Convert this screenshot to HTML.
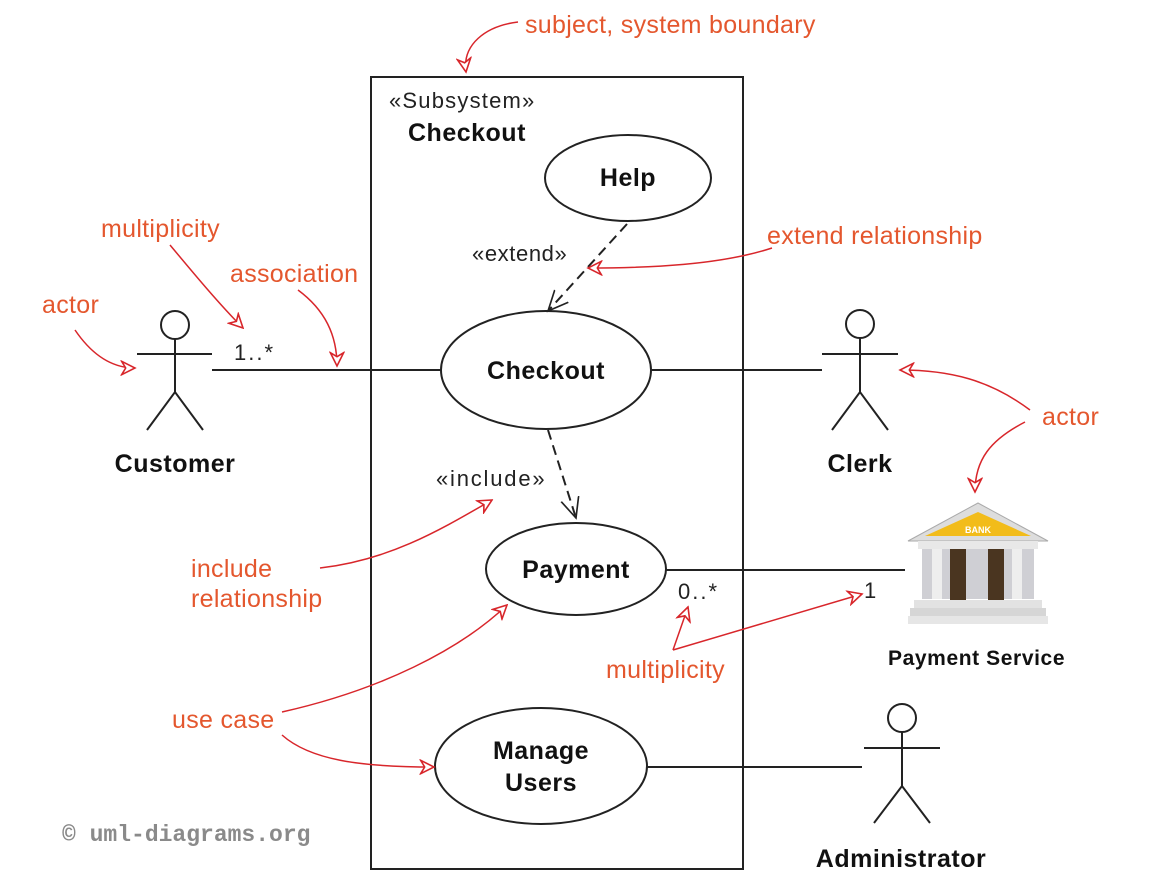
<!DOCTYPE html>
<html><head><meta charset="utf-8"><style>
body{margin:0;background:#fff;}
svg{display:block;font-family:"Liberation Sans",sans-serif;}
.o{fill:#e4572e;font-size:25px;letter-spacing:0.3px;}
.b{font-weight:bold;font-size:25px;fill:#111;letter-spacing:0.5px;}
</style></head><body>
<svg width="1165" height="886" viewBox="0 0 1165 886">
<defs>
<marker id="r" viewBox="0 0 12 12" refX="11" refY="6" markerWidth="16" markerHeight="16" markerUnits="userSpaceOnUse" orient="auto">
<path d="M1,1 L11,6 L1,11 L4,6 Z" fill="#fff" stroke="#d8262b" stroke-width="1.2"/></marker>
<marker id="k" viewBox="0 0 12 12" refX="11" refY="6" markerWidth="22" markerHeight="22" markerUnits="userSpaceOnUse" orient="auto">
<path d="M0,1 L11,6 L0,11" fill="none" stroke="#222" stroke-width="0.9"/></marker>
</defs>
<rect x="371" y="77" width="372" height="792" fill="none" stroke="#222" stroke-width="2"/>
<text x="389" y="108" font-size="22" fill="#222" letter-spacing="1.2">«Subsystem»</text>
<text x="408" y="141" class="b">Checkout</text>
<g fill="#fff" stroke="#222" stroke-width="2">
<ellipse cx="628" cy="178" rx="83" ry="43"/>
<ellipse cx="546" cy="370" rx="105" ry="59"/>
<ellipse cx="576" cy="569" rx="90" ry="46"/>
<ellipse cx="541" cy="766" rx="106" ry="58"/>
</g>
<text x="628" y="186" class="b" text-anchor="middle">Help</text>
<text x="546" y="379" class="b" text-anchor="middle">Checkout</text>
<text x="576" y="578" class="b" text-anchor="middle">Payment</text>
<text x="541" y="759" class="b" text-anchor="middle">Manage</text>
<text x="541" y="791" class="b" text-anchor="middle">Users</text>
<g stroke="#222" stroke-width="2" fill="none">
<line x1="212" y1="370" x2="441" y2="370"/>
<line x1="651" y1="370" x2="822" y2="370"/>
<line x1="666" y1="570" x2="905" y2="570"/>
<line x1="647" y1="767" x2="862" y2="767"/>
<line x1="627" y1="224" x2="548" y2="311" stroke-dasharray="10,6" marker-end="url(#k)"/>
<line x1="548" y1="430" x2="576" y2="518" stroke-dasharray="10,6" marker-end="url(#k)"/>
<circle cx="175" cy="325" r="14"/><line x1="137" y1="354" x2="212" y2="354"/><line x1="175" y1="339" x2="175" y2="392"/><path d="M147,430 L175,392 L203,430"/>
<circle cx="860" cy="324" r="14"/><line x1="822" y1="354" x2="898" y2="354"/><line x1="860" y1="338" x2="860" y2="392"/><path d="M832,430 L860,392 L888,430"/>
<circle cx="902" cy="718" r="14"/><line x1="864" y1="748" x2="940" y2="748"/><line x1="902" y1="732" x2="902" y2="786"/><path d="M874,823 L902,786 L930,823"/>
</g>
<text x="175" y="472" class="b" text-anchor="middle">Customer</text>
<text x="860" y="472" class="b" text-anchor="middle">Clerk</text>
<text x="901" y="867" class="b" text-anchor="middle">Administrator</text>
<text x="888" y="665" font-size="21" font-weight="bold" fill="#111" letter-spacing="0.6">Payment Service</text>
<text x="472" y="261" font-size="22" fill="#222" letter-spacing="0.6">«extend»</text>
<text x="436" y="486" font-size="22" fill="#222" letter-spacing="1.8">«include»</text>
<text x="234" y="360" font-size="22" fill="#222" letter-spacing="2">1..*</text>
<text x="678" y="599" font-size="22" fill="#222" letter-spacing="2">0..*</text>
<text x="864" y="598" font-size="22" fill="#222">1</text>
<!-- bank -->
<g>
<polygon points="908,541 978,503 1048,541" fill="#ddd" stroke="#aaa"/>
<polygon points="925,536 978,512 1031,536" fill="#f2bc1a"/>
<text x="978" y="533" font-size="9" fill="#fff" text-anchor="middle" font-weight="bold">BANK</text>
<rect x="918" y="541" width="120" height="8" fill="#e8e8e8"/>
<rect x="922" y="549" width="112" height="50" fill="#cfcfd4"/>
<rect x="932" y="549" width="10" height="50" fill="#eee"/>
<rect x="1012" y="549" width="10" height="50" fill="#eee"/>
<rect x="950" y="549" width="16" height="52" fill="#4a3520"/>
<rect x="988" y="549" width="16" height="52" fill="#4a3520"/>
<rect x="914" y="600" width="128" height="8" fill="#e2e2e2"/>
<rect x="910" y="608" width="136" height="8" fill="#d6d6d6"/>
<rect x="908" y="616" width="140" height="8" fill="#e6e6e6"/>
</g>
<!-- red annotations -->
<g stroke="#d8262b" stroke-width="1.5" fill="none">
<path d="M518,22 C485,26 462,45 466,72" marker-end="url(#r)"/>
<path d="M75,330 C92,355 112,368 135,368" marker-end="url(#r)"/>
<path d="M170,245 C195,275 220,305 243,328" marker-end="url(#r)"/>
<path d="M298,290 C325,310 337,335 337,366" marker-end="url(#r)"/>
<path d="M772,248 C720,265 650,268 588,268" marker-end="url(#r)"/>
<path d="M1030,410 C990,380 950,370 900,370" marker-end="url(#r)"/>
<path d="M1025,422 C990,440 975,460 975,492" marker-end="url(#r)"/>
<path d="M320,568 C390,560 440,530 492,500" marker-end="url(#r)"/>
<path d="M673,650 L688,607" marker-end="url(#r)"/>
<path d="M673,650 L862,594" marker-end="url(#r)"/>
<path d="M282,712 C380,690 460,650 507,605" marker-end="url(#r)"/>
<path d="M282,735 C310,760 360,767 434,767" marker-end="url(#r)"/>
</g>
<text x="525" y="33" class="o">subject, system boundary</text>
<text x="42" y="313" class="o">actor</text>
<text x="101" y="237" class="o">multiplicity</text>
<text x="230" y="282" class="o">association</text>
<text x="767" y="244" class="o">extend relationship</text>
<text x="1042" y="425" class="o">actor</text>
<text x="191" y="577" class="o">include</text>
<text x="191" y="607" class="o">relationship</text>
<text x="606" y="678" class="o">multiplicity</text>
<text x="172" y="728" class="o">use case</text>
<text x="62" y="841" font-family="Liberation Mono,monospace" font-weight="bold" font-size="23" fill="#8a8a8a">© uml-diagrams.org</text>
</svg>
</body></html>
